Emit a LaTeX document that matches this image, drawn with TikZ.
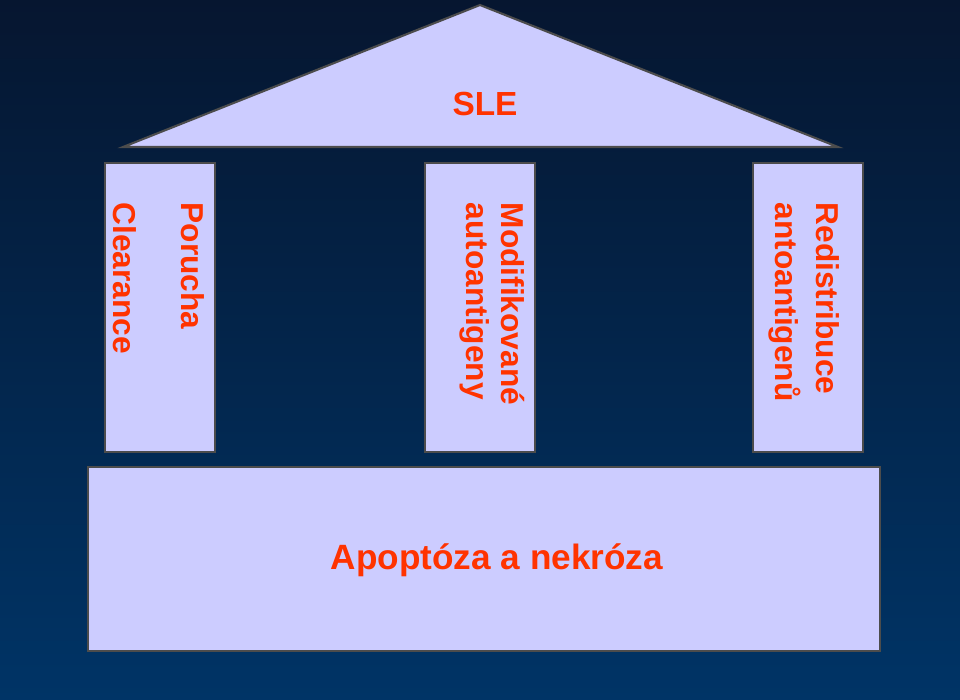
\documentclass[tikz,border=0pt]{standalone}
\usepackage{fontspec}
\setmainfont{Liberation Sans}
\begin{document}
\begin{tikzpicture}[x=0.01cm,y=-0.01cm]
\definecolor{bgtop}{RGB}{6,22,48}
\definecolor{bgbot}{RGB}{0,52,102}
\definecolor{pill}{RGB}{204,204,255}
\definecolor{txt}{RGB}{255,51,0}
\tikzset{part/.style={fill=pill,draw=black!70,line width=0.6pt},
 lbl/.style={text=txt,font=\bfseries\fontsize{9}{10}\selectfont,inner sep=0pt},
 vl/.style={lbl,rotate=-90,anchor=west}}
\shade[top color=bgtop,bottom color=bgbot] (0,0) rectangle (960,699);
\useasboundingbox (0,0) rectangle (960,699);
\draw[part] (123,147) -- (480,5) -- (838,147) -- cycle;
\node[lbl,font=\bfseries\fontsize{9.5}{10}\selectfont] (sle) at (485,104) {SLE};
\draw[part] (105,163) rectangle (215,452);
\draw[part] (425,163) rectangle (535,452);
\draw[part] (753,163) rectangle (863,452);
\draw[part] (88,467) rectangle (880,651);
\node[vl] (a1) at (193,202) {Porucha};
\node[vl] (a2) at (125,202) {Clearance};
\node[vl] (b1) at (513,202) {Modifikované};
\node[vl] (b2) at (475,202) {autoantigeny};
\node[vl] (c1) at (828,202) {Redistribuce};
\node[vl] (c2) at (785,202) {antoantigenů};
\node[lbl,font=\bfseries\fontsize{10}{12}\selectfont] (base) at (497,560) {Apoptóza a nekróza};
\end{tikzpicture}
\end{document}
